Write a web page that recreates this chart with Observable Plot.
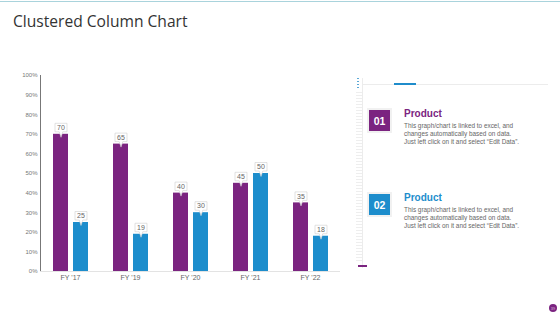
<!DOCTYPE html>
<html>
<head>
<meta charset="utf-8">
<script src="https://cdn.jsdelivr.net/npm/d3@7"></script>
<script src="https://cdn.jsdelivr.net/npm/@observablehq/plot@0.6"></script>
<style>
  html, body { margin: 0; padding: 0; background: #fff; }
  #slide { position: relative; width: 560px; height: 315px; overflow: hidden; background: #fff; font-family: "Liberation Sans", Arial, sans-serif; }
  #topline { position: absolute; left: 0; top: 1px; width: 560px; height: 1px; background: #a9d3dc; }
  #title { position: absolute; left: 13px; top: 10px; font-family: "Open Sans", sans-serif; font-size: 15.6px; color: #333; white-space: nowrap; }
  #chart { position: absolute; left: 0; top: 0; }
  #chart [aria-label^="fx-axis"] text { font-size: 7px; fill: #666; }
  #chart [aria-label^="y-axis"] text { font-size: 6px; fill: #777; }
  #chart [aria-label^="y-axis"] path, #chart [aria-label^="y-axis"] line { stroke: #e6e6e6; }
  .ruler { position: absolute; left: 356px; top: 92px; width: 6px; height: 170px;
           background: repeating-linear-gradient(to bottom, #eeeeee 0 1px, transparent 1px 3px); }
  .vline { position: absolute; left: 362px; top: 78px; width: 1px; height: 190px; background: #ececec; }
  .hline { position: absolute; left: 362px; top: 84px; width: 186px; height: 1px; background: #ececec; }
  .dots { position: absolute; left: 357px; top: 78px; width: 2px; height: 10px;
          background: repeating-linear-gradient(to bottom, #5aa8d6 0 1px, transparent 1px 3px); }
  .blueTab { position: absolute; left: 394px; top: 83px; width: 22px; height: 2px; background: #1f8ccb; }
  .purpleTab { position: absolute; left: 358px; top: 265px; width: 9px; height: 2px; background: #7b2480; }
  .badge { position: absolute; left: 369px; width: 21px; height: 21px; color: #fff; font-weight: bold; font-size: 10.5px;
           display: flex; align-items: center; justify-content: center; box-shadow: 0 0 0 2px #f1f1f1; }
  .ptitle { position: absolute; left: 404px; font-weight: bold; font-size: 10px; }
  .pdesc { position: absolute; left: 404px; font-size: 6.4px; line-height: 8px; color: #666; white-space: nowrap; }
  .pagenum { position: absolute; left: 549px; top: 304px; width: 8px; height: 8px; border-radius: 50%; background: #7b2480;
             color: #d9b7dd; font-size: 4px; display: flex; align-items: center; justify-content: center; }
</style>
</head>
<body>
<div id="slide">
  <div id="topline"></div>
  <div id="chart"></div>
  <div id="title"></div>
  <div id="panel"></div>
</div>
<script>
// Fiscal years and the two product series
const years = ["FY '17", "FY '19", "FY '20", "FY '21", "FY '22"];
const product1 = [70, 65, 40, 45, 35];
const product2 = [25, 19, 30, 50, 18];
const seriesNames = ["Product 01", "Product 02"];
const yTicks = [0, 10, 20, 30, 40, 50, 60, 70, 80, 90, 100];

// Legend / description panel text
const titleText = "Clustered Column Chart";
const cardNumbers = ["01", "02"];
const cardTitles = ["Product", "Product"];
const cardLines = [
  "This graph/chart is linked to excel, and",
  "changes automatically based on data.",
  "Just left click on it and select \u201CEdit Data\u201D."
];
const pageNumber = "39";

const purple = "#7b2480";
const blue = "#1d8dcc";
const seriesColors = [purple, blue];

const data = years.flatMap((year, i) => [
  {year, series: seriesNames[0], value: product1[i]},
  {year, series: seriesNames[1], value: product2[i]}
]);

// Callout box with a small pointer aimed at the top of each bar
const callout = {
  draw(ctx) {
    ctx.moveTo(-6, -11);
    ctx.lineTo(6, -11);
    ctx.lineTo(6, -2.5);
    ctx.lineTo(1.8, -2.5);
    ctx.lineTo(0, 3);
    ctx.lineTo(-1.8, -2.5);
    ctx.lineTo(-6, -2.5);
    ctx.closePath();
  }
};

const chart = Plot.plot({
  width: 560,
  height: 315,
  marginTop: 75,
  marginBottom: 44,
  marginLeft: 40,
  marginRight: 220,
  style: {fontFamily: "'Liberation Sans', Arial, sans-serif", fontSize: "6px", background: "transparent", color: "#777"},
  fx: {domain: years, padding: 0, axis: "bottom", tickSize: 0, tickPadding: 4, label: null},
  x: {domain: seriesNames, axis: null, paddingInner: 0.25, paddingOuter: 0.625},
  y: {domain: [0, 100], ticks: yTicks, tickFormat: d => d + "%", tickSize: 0, tickPadding: 3, label: null, line: true},
  color: {domain: seriesNames, range: seriesColors},
  marks: [
    Plot.barY(data, {fx: "year", x: "series", y: "value", fill: "series"}),
    Plot.ruleY([0], {stroke: "#e3e3e3"}),
    Plot.dot(data, {fx: "year", x: "series", y: "value", symbol: callout, fill: "white", stroke: "#cfcfcf", strokeWidth: 0.6}),
    Plot.text(data, {fx: "year", x: "series", y: "value", text: d => String(d.value), dy: -6.5, fontSize: 7, fill: "#666"})
  ]
});
document.getElementById("chart").appendChild(chart);
document.getElementById("title").textContent = titleText;

// Right-hand description panel
const panel = document.getElementById("panel");
panel.innerHTML = `
  <div class="vline"></div>
  <div class="ruler"></div>
  <div class="hline"></div>
  <div class="dots"></div>
  <div class="blueTab"></div>
  <div class="purpleTab"></div>
`;
const cardTops = [110, 194];
cardNumbers.forEach((num, i) => {
  const top = cardTops[i];
  const badge = document.createElement("div");
  badge.className = "badge";
  badge.style.top = top + "px";
  badge.style.background = seriesColors[i];
  badge.textContent = num;
  panel.appendChild(badge);

  const t = document.createElement("div");
  t.className = "ptitle";
  t.style.top = (top - 2) + "px";
  t.style.color = seriesColors[i];
  t.textContent = cardTitles[i];
  panel.appendChild(t);

  const d = document.createElement("div");
  d.className = "pdesc";
  d.style.top = (top + 12) + "px";
  d.innerHTML = cardLines.join("<br>");
  panel.appendChild(d);
});
const pn = document.createElement("div");
pn.className = "pagenum";
pn.textContent = pageNumber;
panel.appendChild(pn);
</script>
</body>
</html>
